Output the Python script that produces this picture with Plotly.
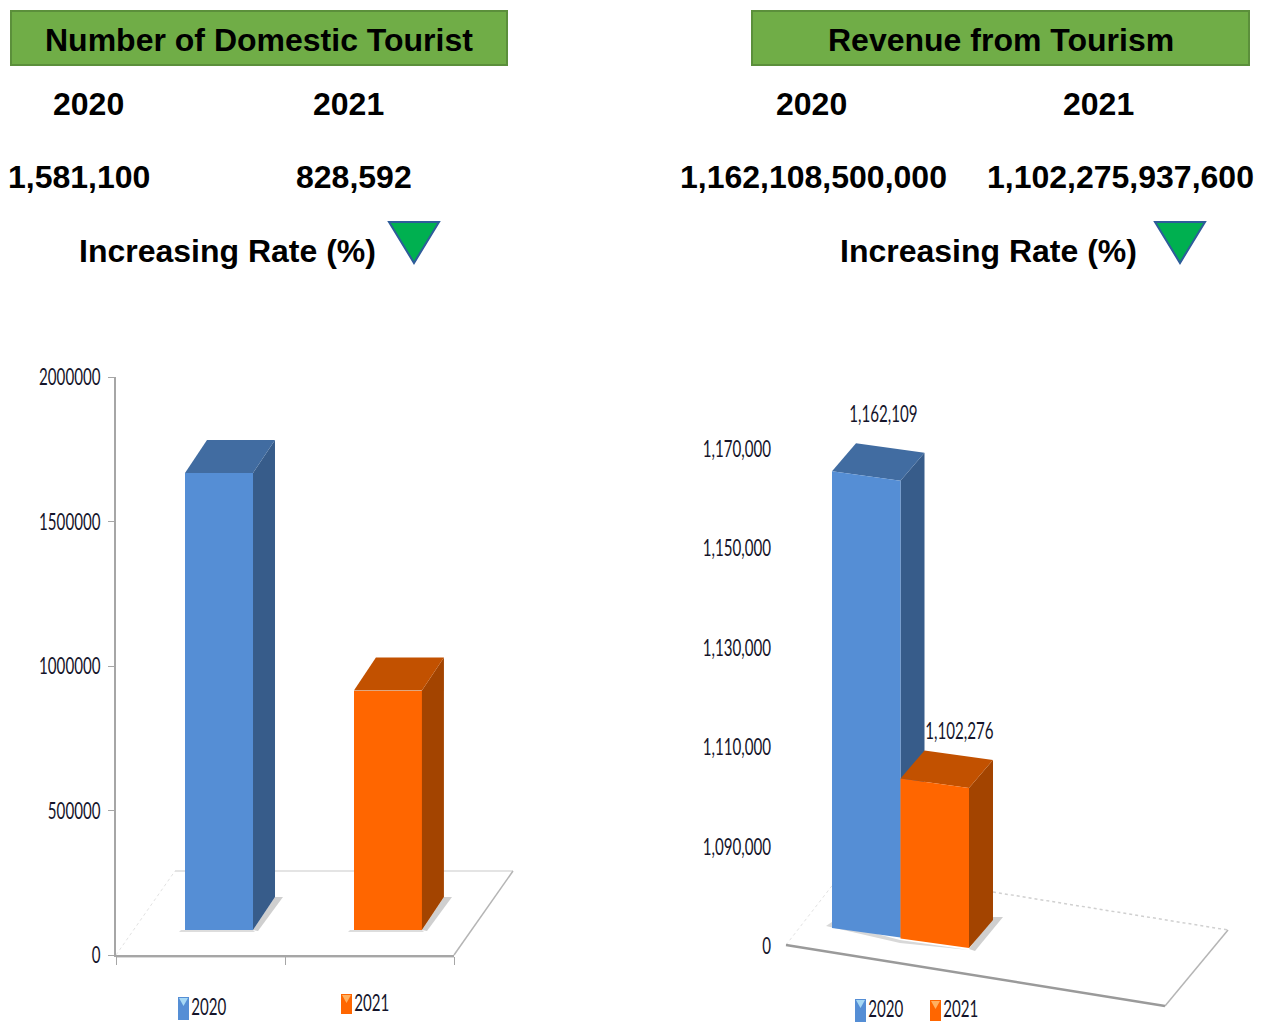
import plotly.graph_objects as go

# ---------- data ----------
years = ["2020", "2021"]
tourists = [1581100, 828592]
revenue = [1162108500000, 1102275937600]
revenue_chart = [1162109, 1102276]
left_ticks = [0, 500000, 1000000, 1500000, 2000000]
right_ticks = [1070000, 1090000, 1110000, 1130000, 1150000, 1170000]
right_tick_text = ["0", "1,090,000", "1,110,000", "1,130,000", "1,150,000", "1,170,000"]

# ---------- style ----------
W, H = 1266, 1023
BLUE = ("#558ED5", "#375C8A", "#416CA1")
ORANGE = ("#FF6600", "#A34400", "#C25100")
COLORS = [BLUE, ORANGE]
BOLD = dict(family="Liberation Sans", size=32, color="#000000", weight=700)
NARROW = dict(family="Lato", size=24, color="#14142a")
SQUEEZE = 0.63


def px(x):
    return x / W


def py(y):
    return 1 - y / H


fig = go.Figure()
shapes, annos = [], []


def text(s, x, y, font=BOLD, anchor="center"):
    annos.append(dict(text=s, x=px(x), y=py(y), xref="paper", yref="paper", showarrow=False,
                      xanchor=anchor, yanchor="middle", font=font))


def poly(points, fill, line=None, width=0, dash=None):
    d = "M" + " L".join(f"{px(a):.5f},{py(b):.5f}" for a, b in points) + " Z"
    shapes.append(dict(type="path", path=d, xref="paper", yref="paper", layer="below",
                       fillcolor=fill, line=dict(color=line or "rgba(0,0,0,0)", width=width, dash=dash)))


def seg(a, b, color, width, dash=None):
    shapes.append(dict(type="line", xref="paper", yref="paper", layer="below",
                       x0=px(a[0]), y0=py(a[1]), x1=px(b[0]), y1=py(b[1]),
                       line=dict(color=color, width=width, dash=dash)))


def header(x0, x1, title, centers20, centers21, vals, vx, rx, tri):
    shapes.append(dict(type="rect", xref="paper", yref="paper", x0=px(x0 + 1), x1=px(x1 - 1), y0=py(65), y1=py(11),
                       fillcolor="#70AD47", line=dict(color="#5B8F3B", width=2)))
    text(title, (x0 + x1) / 2, 40)
    text(years[0], centers20, 104)
    text(years[1], centers21, 104)
    text(f"{vals[0]:,}", vx[0], 177)
    text(f"{vals[1]:,}", vx[1], 177)
    text("Increasing Rate (%)", rx, 251)
    poly([(tri, 222), (tri + 50, 222), (tri + 25, 263)], "#00B050", "#2E5C9A", 2)


header(10, 508, "Number of Domestic Tourist", 88, 348, tourists, (79, 354), 227, 389)
header(751, 1250, "Revenue from Tourism", 811, 1098, revenue, (813.5, 1120), 988, 1155)

# ---------- left chart: value axis 0 at y=955, 2,000,000 at y=377 ----------
L_SCALE = 578 / 2000000
L_X = 169.0
L_BASE = 25 / L_SCALE
L_DX = 22 / L_X
L_DY = 33 / L_SCALE
L_W = 68 / L_X
L_POS = [0.6095, 1.609]

poly([(116, 955), (454, 955), (513, 871), (175, 871)], "#FFFFFF")
seg((175, 871), (513, 871), "#E4E4E4", 2)
seg((116, 955), (175, 871), "#E2E2E2", 1, "dot")
seg((454, 955), (513, 871), "#B5B5B5", 1.5)
seg((116, 957), (454, 957), "#DADADA", 2)

fig.add_bar(x=[L_POS[0]], y=[tourists[0]], base=L_BASE, width=L_W, marker=dict(color=BLUE[0], line_width=0),
            name=years[0], showlegend=False)
fig.add_bar(x=[L_POS[1]], y=[tourists[1]], base=L_BASE, width=L_W, marker=dict(color=ORANGE[0], line_width=0),
            name=years[1], showlegend=False)
for pos, v, c, sx in zip(L_POS, tourists, COLORS, (253, 422)):
    x0, x1 = pos - L_W / 2, pos + L_W / 2
    top = L_BASE + v
    fig.add_scatter(x=[x1, x1 + L_DX, x1 + L_DX, x1, x1], y=[L_BASE, L_BASE + L_DY, top + L_DY, top, L_BASE],
                    fill="toself", fillcolor=c[1], mode="none", showlegend=False, cliponaxis=False)
    fig.add_scatter(x=[x0, x1, x1 + L_DX, x0 + L_DX, x0], y=[top, top, top + L_DY, top + L_DY, top],
                    fill="toself", fillcolor=c[2], mode="none", showlegend=False, cliponaxis=False)
    poly([(sx, 930), (sx + 22, 897), (sx + 30, 897), (sx + 5, 931)], "#CFCFCF")
    poly([(sx - 72, 930), (sx, 930), (sx + 2, 932), (sx - 74, 932)], "#DDDDDD")

# ---------- right chart: broken axis, lowest tick drawn as 0 ----------
R_SCALE = 99.5 / 20000
R_X = 68.5
R_BASE = 18 / R_SCALE
R_TOP = 16.5 / R_SCALE
R_SKEW = 9.5 / R_SCALE
R_DX = 24 / R_X
R_DY = 28 / R_SCALE
R_ZERO = right_ticks[0]
R_POS = [0, 1]
R_LABEL_DX = [0.75, 0.86]
R_LABEL_DY = [27 / R_SCALE, 17 / R_SCALE]

poly([(786, 945), (1165, 1006), (1228, 930), (845, 869)], "#FFFFFF")
seg((993, 892), (1228, 930), "#D0D0D0", 1.5, "dot")
seg((786, 945), (845, 869), "#E2E2E2", 1, "dot")
seg((1165, 1006), (1228, 930), "#B5B5B5", 1.5)
seg((786, 945), (1165, 1006), "#9A9A9A", 2.5)
poly([(826, 926), (832, 922), (900, 940), (969, 950), (900, 943)], "#D8D8D8")
poly([(969, 949), (993, 917), (1003, 917), (975, 951)], "#CFCFCF")

for pos, v, c, ldx, ldy in zip(R_POS, revenue_chart, COLORS, R_LABEL_DX, R_LABEL_DY):
    b = R_ZERO + R_BASE - pos * R_SKEW * 1.1
    t = R_TOP + v - pos * R_SKEW
    x0, x1 = pos, pos + 1
    b0, b1 = b, b - R_SKEW
    t0, t1 = t, t - R_SKEW
    common = dict(mode="none", showlegend=False, xaxis="x2", yaxis="y2", cliponaxis=False)
    fig.add_scatter(x=[x1, x1 + R_DX, x1 + R_DX, x1, x1], y=[b1, b1 + R_DY, t1 + R_DY, t1, b1],
                    fill="toself", fillcolor=c[1], **common)
    fig.add_scatter(x=[x0, x1, x1 + R_DX, x0 + R_DX, x0], y=[t0, t1, t1 + R_DY, t0 + R_DY, t0],
                    fill="toself", fillcolor=c[2], **common)
    fig.add_scatter(x=[x0, x1, x1, x0, x0], y=[b0, b1, t1, t0, b0],
                    fill="toself", fillcolor=c[0], **common)
    fig.add_scatter(x=[pos + ldx], y=[t0 + R_DY + ldy], mode="text", text=[f"{v:,}"], textfont=NARROW,
                    textposition="middle center", showlegend=False, xaxis="x2", yaxis="y2", cliponaxis=False)


# ---------- legends ----------
def swatch(x, y0, y1, c, tip):
    shapes.append(dict(type="rect", xref="paper", yref="paper", layer="below", x0=px(x), x1=px(x + 11),
                       y0=py(y1), y1=py(y0), fillcolor=c, line_width=0))
    poly([(x + 1, y0 + 1), (x + 10, y0 + 1), (x + 5.5, y0 + 9)], tip)


swatch(178, 997, 1020, BLUE[0], "#A6D8F5")
text(years[0], 209, 1005.5, NARROW)
swatch(341, 994, 1014, ORANGE[0], "#FFB060")
text(years[1], 372, 1001.5, NARROW)
swatch(855, 999, 1022, BLUE[0], "#A6D8F5")
text(years[0], 886, 1007.5, NARROW)
swatch(930, 1000, 1021, ORANGE[0], "#FFB060")
text(years[1], 961, 1007.5, NARROW)

fig.update_layout(
    width=W, height=H, margin=dict(l=0, r=0, t=0, b=0, autoexpand=False), paper_bgcolor="white",
    plot_bgcolor="rgba(0,0,0,0)", showlegend=False, shapes=shapes, annotations=annos, bargap=0,
    xaxis=dict(domain=[px(116), px(454)], range=[0, 2], tickvals=[0, 1, 2], ticktext=["", "", ""],
               ticks="outside", ticklen=8, tickcolor="#A6A6A6", showline=True, linecolor="#A6A6A6", linewidth=2,
               showgrid=False, zeroline=False, anchor="y"),
    yaxis=dict(domain=[py(955), py(377)], range=[0, 2000000], tickvals=left_ticks, ticktext=[str(t) for t in left_ticks],
               ticks="outside", ticklen=6, tickcolor="#A6A6A6", showline=True, linecolor="#A6A6A6", linewidth=1.5,
               showgrid=False, zeroline=False, tickfont=NARROW, ticklabelstandoff=3, anchor="x", automargin=False),
    xaxis2=dict(domain=[px(786), px(1228)], range=[(786 - 832) / R_X, (1228 - 832) / R_X], visible=False, anchor="y2"),
    yaxis2=dict(domain=[py(1011), py(381)], range=[R_ZERO - 65 / R_SCALE, R_ZERO + 565 / R_SCALE],
                tickvals=right_ticks, ticktext=right_tick_text, ticks="", showline=False, showgrid=False,
                zeroline=False, tickfont=NARROW, ticklabelstandoff=14, anchor="x2", automargin=False),
)

# the original's small labels are horizontally condensed: scale the real text elements about their anchor
post = """
document.body.style.margin='0';
document.querySelectorAll('svg text').forEach(function(el){
  if ((el.style.fontFamily||'').indexOf('Lato')<0) return;
  var x=+el.getAttribute('x')||0, old=el.getAttribute('transform')||'';
  el.setAttribute('transform', old+' translate('+x+',0) scale(%s,1) translate('+(-x)+',0)');
});
""" % SQUEEZE
fig.write_html("out.html", config=dict(displayModeBar=False), post_script=post)
